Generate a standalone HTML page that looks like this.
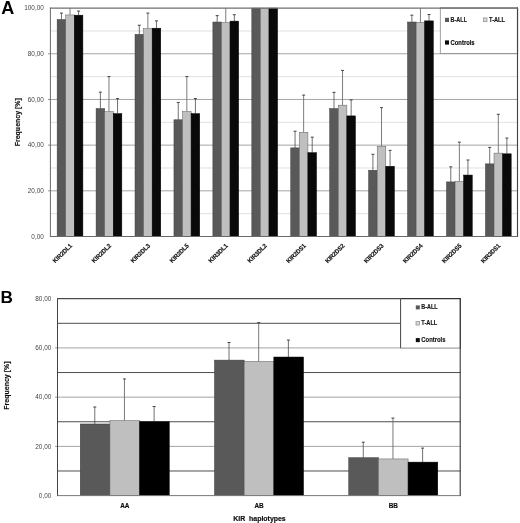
<!DOCTYPE html>
<html><head><meta charset="utf-8"><title>KIR frequencies</title>
<style>
html,body{margin:0;padding:0;background:#fff;}
body{width:520px;height:523px;overflow:hidden;font-family:"Liberation Sans",sans-serif;}
svg{display:block;filter:blur(0.45px)}
</style></head><body>
<svg width="520" height="523" viewBox="0 0 520 523">
<rect x="0" y="0" width="520" height="523" fill="#fff"/>
<line x1="50.4" x2="517.5" y1="213.66" y2="213.66" stroke="#dcdcdc" stroke-width="0.9"/>
<line x1="50.4" x2="517.5" y1="190.82" y2="190.82" stroke="#9a9a9a" stroke-width="0.9"/>
<line x1="50.4" x2="517.5" y1="167.98" y2="167.98" stroke="#dcdcdc" stroke-width="0.9"/>
<line x1="50.4" x2="517.5" y1="145.14" y2="145.14" stroke="#9a9a9a" stroke-width="0.9"/>
<line x1="50.4" x2="517.5" y1="122.30" y2="122.30" stroke="#dcdcdc" stroke-width="0.9"/>
<line x1="50.4" x2="517.5" y1="99.46" y2="99.46" stroke="#9a9a9a" stroke-width="0.9"/>
<line x1="50.4" x2="517.5" y1="76.62" y2="76.62" stroke="#dcdcdc" stroke-width="0.9"/>
<line x1="50.4" x2="517.5" y1="53.78" y2="53.78" stroke="#9a9a9a" stroke-width="0.9"/>
<line x1="50.4" x2="517.5" y1="30.94" y2="30.94" stroke="#dcdcdc" stroke-width="0.9"/>
<text x="43.8" y="238.85" text-anchor="end" font-size="6.4" fill="#444" font-family="Liberation Sans, sans-serif">0,00</text>
<line x1="48.0" x2="50.4" y1="190.82" y2="190.82" stroke="#777" stroke-width="0.8"/>
<text x="43.8" y="193.17" text-anchor="end" font-size="6.4" fill="#444" font-family="Liberation Sans, sans-serif">20,00</text>
<line x1="48.0" x2="50.4" y1="145.14" y2="145.14" stroke="#777" stroke-width="0.8"/>
<text x="43.8" y="147.49" text-anchor="end" font-size="6.4" fill="#444" font-family="Liberation Sans, sans-serif">40,00</text>
<line x1="48.0" x2="50.4" y1="99.46" y2="99.46" stroke="#777" stroke-width="0.8"/>
<text x="43.8" y="101.81" text-anchor="end" font-size="6.4" fill="#444" font-family="Liberation Sans, sans-serif">60,00</text>
<line x1="48.0" x2="50.4" y1="53.78" y2="53.78" stroke="#777" stroke-width="0.8"/>
<text x="43.8" y="56.13" text-anchor="end" font-size="6.4" fill="#444" font-family="Liberation Sans, sans-serif">80,00</text>
<text x="43.8" y="10.45" text-anchor="end" font-size="6.4" fill="#444" font-family="Liberation Sans, sans-serif">100,00</text>
<rect x="57.15" y="19.52" width="8.58" height="216.98" fill="#595959" stroke="#3a3a3a" stroke-width="0.5"/>
<rect x="65.73" y="14.95" width="8.58" height="221.55" fill="#bfbfbf" stroke="#5e5e5e" stroke-width="0.5"/>
<rect x="74.31" y="15.18" width="8.58" height="221.32" fill="#090909" stroke="#000" stroke-width="0.5"/>
<line x1="61.44" x2="61.44" y1="19.52" y2="13.12" stroke="#333" stroke-width="0.7"/>
<line x1="59.94" x2="62.94" y1="13.12" y2="13.12" stroke="#333" stroke-width="0.9"/>
<line x1="70.02" x2="70.02" y1="14.95" y2="8.10" stroke="#7c7c7c" stroke-width="1.0"/>
<line x1="78.60" x2="78.60" y1="15.18" y2="11.07" stroke="#333" stroke-width="0.7"/>
<line x1="77.10" x2="80.10" y1="11.07" y2="11.07" stroke="#333" stroke-width="0.9"/>
<text transform="translate(72.62,246.1) rotate(-45) scale(0.93,1)" text-anchor="end" font-size="6.3" font-weight="bold" fill="#0c0c0c" stroke="#0c0c0c" stroke-width="0.15" stroke="#111" stroke-width="0.2" font-family="Liberation Sans, sans-serif">KIR2DL1</text>
<rect x="96.09" y="108.60" width="8.58" height="127.90" fill="#595959" stroke="#3a3a3a" stroke-width="0.5"/>
<rect x="104.67" y="111.57" width="8.58" height="124.93" fill="#bfbfbf" stroke="#5e5e5e" stroke-width="0.5"/>
<rect x="113.25" y="113.62" width="8.58" height="122.88" fill="#090909" stroke="#000" stroke-width="0.5"/>
<line x1="100.38" x2="100.38" y1="108.60" y2="92.15" stroke="#333" stroke-width="0.7"/>
<line x1="98.88" x2="101.88" y1="92.15" y2="92.15" stroke="#333" stroke-width="0.9"/>
<line x1="108.96" x2="108.96" y1="111.57" y2="76.62" stroke="#7c7c7c" stroke-width="1.0"/>
<line x1="107.46" x2="110.46" y1="76.62" y2="76.62" stroke="#333" stroke-width="0.9"/>
<line x1="117.54" x2="117.54" y1="113.62" y2="98.55" stroke="#333" stroke-width="0.7"/>
<line x1="116.04" x2="119.04" y1="98.55" y2="98.55" stroke="#333" stroke-width="0.9"/>
<text transform="translate(111.56,246.1) rotate(-45) scale(0.93,1)" text-anchor="end" font-size="6.3" font-weight="bold" fill="#0c0c0c" stroke="#0c0c0c" stroke-width="0.15" stroke="#111" stroke-width="0.2" font-family="Liberation Sans, sans-serif">KIR2DL2</text>
<rect x="135.02" y="34.37" width="8.58" height="202.13" fill="#595959" stroke="#3a3a3a" stroke-width="0.5"/>
<rect x="143.60" y="28.66" width="8.58" height="207.84" fill="#bfbfbf" stroke="#5e5e5e" stroke-width="0.5"/>
<rect x="152.18" y="28.20" width="8.58" height="208.30" fill="#090909" stroke="#000" stroke-width="0.5"/>
<line x1="139.31" x2="139.31" y1="34.37" y2="25.23" stroke="#333" stroke-width="0.7"/>
<line x1="137.81" x2="140.81" y1="25.23" y2="25.23" stroke="#333" stroke-width="0.9"/>
<line x1="147.89" x2="147.89" y1="28.66" y2="13.12" stroke="#7c7c7c" stroke-width="1.0"/>
<line x1="146.39" x2="149.39" y1="13.12" y2="13.12" stroke="#333" stroke-width="0.9"/>
<line x1="156.47" x2="156.47" y1="28.20" y2="20.89" stroke="#333" stroke-width="0.7"/>
<line x1="154.97" x2="157.97" y1="20.89" y2="20.89" stroke="#333" stroke-width="0.9"/>
<text transform="translate(150.49,246.1) rotate(-45) scale(0.93,1)" text-anchor="end" font-size="6.3" font-weight="bold" fill="#0c0c0c" stroke="#0c0c0c" stroke-width="0.15" stroke="#111" stroke-width="0.2" font-family="Liberation Sans, sans-serif">KIR2DL3</text>
<rect x="173.96" y="119.79" width="8.58" height="116.71" fill="#595959" stroke="#3a3a3a" stroke-width="0.5"/>
<rect x="182.54" y="111.57" width="8.58" height="124.93" fill="#bfbfbf" stroke="#5e5e5e" stroke-width="0.5"/>
<rect x="191.12" y="113.62" width="8.58" height="122.88" fill="#090909" stroke="#000" stroke-width="0.5"/>
<line x1="178.25" x2="178.25" y1="119.79" y2="102.43" stroke="#333" stroke-width="0.7"/>
<line x1="176.75" x2="179.75" y1="102.43" y2="102.43" stroke="#333" stroke-width="0.9"/>
<line x1="186.83" x2="186.83" y1="111.57" y2="76.62" stroke="#7c7c7c" stroke-width="1.0"/>
<line x1="185.33" x2="188.33" y1="76.62" y2="76.62" stroke="#333" stroke-width="0.9"/>
<line x1="195.41" x2="195.41" y1="113.62" y2="98.55" stroke="#333" stroke-width="0.7"/>
<line x1="193.91" x2="196.91" y1="98.55" y2="98.55" stroke="#333" stroke-width="0.9"/>
<text transform="translate(189.43,246.1) rotate(-45) scale(0.93,1)" text-anchor="end" font-size="6.3" font-weight="bold" fill="#0c0c0c" stroke="#0c0c0c" stroke-width="0.15" stroke="#111" stroke-width="0.2" font-family="Liberation Sans, sans-serif">KIR2DL5</text>
<rect x="212.89" y="22.03" width="8.58" height="214.47" fill="#595959" stroke="#3a3a3a" stroke-width="0.5"/>
<rect x="221.47" y="22.49" width="8.58" height="214.01" fill="#bfbfbf" stroke="#5e5e5e" stroke-width="0.5"/>
<rect x="230.05" y="21.12" width="8.58" height="215.38" fill="#090909" stroke="#000" stroke-width="0.5"/>
<line x1="217.18" x2="217.18" y1="22.03" y2="15.64" stroke="#333" stroke-width="0.7"/>
<line x1="215.68" x2="218.68" y1="15.64" y2="15.64" stroke="#333" stroke-width="0.9"/>
<line x1="225.76" x2="225.76" y1="22.49" y2="8.10" stroke="#7c7c7c" stroke-width="1.0"/>
<line x1="234.34" x2="234.34" y1="21.12" y2="14.72" stroke="#333" stroke-width="0.7"/>
<line x1="232.84" x2="235.84" y1="14.72" y2="14.72" stroke="#333" stroke-width="0.9"/>
<text transform="translate(228.36,246.1) rotate(-45) scale(0.93,1)" text-anchor="end" font-size="6.3" font-weight="bold" fill="#0c0c0c" stroke="#0c0c0c" stroke-width="0.15" stroke="#111" stroke-width="0.2" font-family="Liberation Sans, sans-serif">KIR3DL1</text>
<rect x="251.83" y="8.10" width="8.58" height="228.40" fill="#595959" stroke="#3a3a3a" stroke-width="0.5"/>
<rect x="260.41" y="8.10" width="8.58" height="228.40" fill="#bfbfbf" stroke="#5e5e5e" stroke-width="0.5"/>
<rect x="268.99" y="8.10" width="8.58" height="228.40" fill="#090909" stroke="#000" stroke-width="0.5"/>
<text transform="translate(267.30,246.1) rotate(-45) scale(0.93,1)" text-anchor="end" font-size="6.3" font-weight="bold" fill="#0c0c0c" stroke="#0c0c0c" stroke-width="0.15" stroke="#111" stroke-width="0.2" font-family="Liberation Sans, sans-serif">KIR3DL2</text>
<rect x="290.76" y="147.88" width="8.58" height="88.62" fill="#595959" stroke="#3a3a3a" stroke-width="0.5"/>
<rect x="299.34" y="132.35" width="8.58" height="104.15" fill="#bfbfbf" stroke="#5e5e5e" stroke-width="0.5"/>
<rect x="307.92" y="152.68" width="8.58" height="83.82" fill="#090909" stroke="#000" stroke-width="0.5"/>
<line x1="295.05" x2="295.05" y1="147.88" y2="131.21" stroke="#333" stroke-width="0.7"/>
<line x1="293.55" x2="296.55" y1="131.21" y2="131.21" stroke="#333" stroke-width="0.9"/>
<line x1="303.63" x2="303.63" y1="132.35" y2="95.12" stroke="#7c7c7c" stroke-width="1.0"/>
<line x1="302.13" x2="305.13" y1="95.12" y2="95.12" stroke="#333" stroke-width="0.9"/>
<line x1="312.21" x2="312.21" y1="152.68" y2="137.15" stroke="#333" stroke-width="0.7"/>
<line x1="310.71" x2="313.71" y1="137.15" y2="137.15" stroke="#333" stroke-width="0.9"/>
<text transform="translate(306.23,246.1) rotate(-45) scale(0.93,1)" text-anchor="end" font-size="6.3" font-weight="bold" fill="#0c0c0c" stroke="#0c0c0c" stroke-width="0.15" stroke="#111" stroke-width="0.2" font-family="Liberation Sans, sans-serif">KIR2DS1</text>
<rect x="329.69" y="108.60" width="8.58" height="127.90" fill="#595959" stroke="#3a3a3a" stroke-width="0.5"/>
<rect x="338.27" y="105.17" width="8.58" height="131.33" fill="#bfbfbf" stroke="#5e5e5e" stroke-width="0.5"/>
<rect x="346.86" y="115.90" width="8.58" height="120.60" fill="#090909" stroke="#000" stroke-width="0.5"/>
<line x1="333.99" x2="333.99" y1="108.60" y2="92.38" stroke="#333" stroke-width="0.7"/>
<line x1="332.49" x2="335.49" y1="92.38" y2="92.38" stroke="#333" stroke-width="0.9"/>
<line x1="342.56" x2="342.56" y1="105.17" y2="70.45" stroke="#7c7c7c" stroke-width="1.0"/>
<line x1="341.06" x2="344.06" y1="70.45" y2="70.45" stroke="#333" stroke-width="0.9"/>
<line x1="351.15" x2="351.15" y1="115.90" y2="99.92" stroke="#333" stroke-width="0.7"/>
<line x1="349.65" x2="352.65" y1="99.92" y2="99.92" stroke="#333" stroke-width="0.9"/>
<text transform="translate(345.17,246.1) rotate(-45) scale(0.93,1)" text-anchor="end" font-size="6.3" font-weight="bold" fill="#0c0c0c" stroke="#0c0c0c" stroke-width="0.15" stroke="#111" stroke-width="0.2" font-family="Liberation Sans, sans-serif">KIR2DS2</text>
<rect x="368.63" y="170.26" width="8.58" height="66.24" fill="#595959" stroke="#3a3a3a" stroke-width="0.5"/>
<rect x="377.21" y="146.28" width="8.58" height="90.22" fill="#bfbfbf" stroke="#5e5e5e" stroke-width="0.5"/>
<rect x="385.79" y="166.27" width="8.58" height="70.23" fill="#090909" stroke="#000" stroke-width="0.5"/>
<line x1="372.92" x2="372.92" y1="170.26" y2="154.28" stroke="#333" stroke-width="0.7"/>
<line x1="371.42" x2="374.42" y1="154.28" y2="154.28" stroke="#333" stroke-width="0.9"/>
<line x1="381.50" x2="381.50" y1="146.28" y2="107.68" stroke="#7c7c7c" stroke-width="1.0"/>
<line x1="380.00" x2="383.00" y1="107.68" y2="107.68" stroke="#333" stroke-width="0.9"/>
<line x1="390.08" x2="390.08" y1="166.27" y2="150.39" stroke="#333" stroke-width="0.7"/>
<line x1="388.58" x2="391.58" y1="150.39" y2="150.39" stroke="#333" stroke-width="0.9"/>
<text transform="translate(384.10,246.1) rotate(-45) scale(0.93,1)" text-anchor="end" font-size="6.3" font-weight="bold" fill="#0c0c0c" stroke="#0c0c0c" stroke-width="0.15" stroke="#111" stroke-width="0.2" font-family="Liberation Sans, sans-serif">KIR2DS3</text>
<rect x="407.56" y="22.03" width="8.58" height="214.47" fill="#595959" stroke="#3a3a3a" stroke-width="0.5"/>
<rect x="416.14" y="22.26" width="8.58" height="214.24" fill="#bfbfbf" stroke="#5e5e5e" stroke-width="0.5"/>
<rect x="424.73" y="20.89" width="8.58" height="215.61" fill="#090909" stroke="#000" stroke-width="0.5"/>
<line x1="411.86" x2="411.86" y1="22.03" y2="15.18" stroke="#333" stroke-width="0.7"/>
<line x1="410.36" x2="413.36" y1="15.18" y2="15.18" stroke="#333" stroke-width="0.9"/>
<line x1="420.44" x2="420.44" y1="22.26" y2="8.10" stroke="#7c7c7c" stroke-width="1.0"/>
<line x1="429.02" x2="429.02" y1="20.89" y2="14.50" stroke="#333" stroke-width="0.7"/>
<line x1="427.52" x2="430.52" y1="14.50" y2="14.50" stroke="#333" stroke-width="0.9"/>
<text transform="translate(423.04,246.1) rotate(-45) scale(0.93,1)" text-anchor="end" font-size="6.3" font-weight="bold" fill="#0c0c0c" stroke="#0c0c0c" stroke-width="0.15" stroke="#111" stroke-width="0.2" font-family="Liberation Sans, sans-serif">KIR2DS4</text>
<rect x="446.50" y="181.91" width="8.58" height="54.59" fill="#595959" stroke="#3a3a3a" stroke-width="0.5"/>
<rect x="455.08" y="181.23" width="8.58" height="55.27" fill="#bfbfbf" stroke="#5e5e5e" stroke-width="0.5"/>
<rect x="463.66" y="175.06" width="8.58" height="61.44" fill="#090909" stroke="#000" stroke-width="0.5"/>
<line x1="450.79" x2="450.79" y1="181.91" y2="166.84" stroke="#333" stroke-width="0.7"/>
<line x1="449.29" x2="452.29" y1="166.84" y2="166.84" stroke="#333" stroke-width="0.9"/>
<line x1="459.37" x2="459.37" y1="181.23" y2="142.17" stroke="#7c7c7c" stroke-width="1.0"/>
<line x1="457.87" x2="460.87" y1="142.17" y2="142.17" stroke="#333" stroke-width="0.9"/>
<line x1="467.95" x2="467.95" y1="175.06" y2="159.99" stroke="#333" stroke-width="0.7"/>
<line x1="466.45" x2="469.45" y1="159.99" y2="159.99" stroke="#333" stroke-width="0.9"/>
<text transform="translate(461.97,246.1) rotate(-45) scale(0.93,1)" text-anchor="end" font-size="6.3" font-weight="bold" fill="#0c0c0c" stroke="#0c0c0c" stroke-width="0.15" stroke="#111" stroke-width="0.2" font-family="Liberation Sans, sans-serif">KIR2DS5</text>
<rect x="485.44" y="163.87" width="8.58" height="72.63" fill="#595959" stroke="#3a3a3a" stroke-width="0.5"/>
<rect x="494.01" y="153.13" width="8.58" height="83.37" fill="#bfbfbf" stroke="#5e5e5e" stroke-width="0.5"/>
<rect x="502.60" y="153.82" width="8.58" height="82.68" fill="#090909" stroke="#000" stroke-width="0.5"/>
<line x1="489.73" x2="489.73" y1="163.87" y2="147.42" stroke="#333" stroke-width="0.7"/>
<line x1="488.23" x2="491.23" y1="147.42" y2="147.42" stroke="#333" stroke-width="0.9"/>
<line x1="498.31" x2="498.31" y1="153.13" y2="114.31" stroke="#7c7c7c" stroke-width="1.0"/>
<line x1="496.81" x2="499.81" y1="114.31" y2="114.31" stroke="#333" stroke-width="0.9"/>
<line x1="506.89" x2="506.89" y1="153.82" y2="138.06" stroke="#333" stroke-width="0.7"/>
<line x1="505.39" x2="508.39" y1="138.06" y2="138.06" stroke="#333" stroke-width="0.9"/>
<text transform="translate(500.91,246.1) rotate(-45) scale(0.93,1)" text-anchor="end" font-size="6.3" font-weight="bold" fill="#0c0c0c" stroke="#0c0c0c" stroke-width="0.15" stroke="#111" stroke-width="0.2" font-family="Liberation Sans, sans-serif">KIR3DS1</text>
<line x1="49.9" x2="518.0" y1="8.1" y2="8.1" stroke="#6e6e6e" stroke-width="1.3"/>
<line x1="50.4" x2="50.4" y1="7.6" y2="237.0" stroke="#6a6a6a" stroke-width="1"/>
<line x1="517.5" x2="517.5" y1="7.6" y2="237.0" stroke="#444" stroke-width="1.15"/>
<line x1="50.4" x2="517.5" y1="236.5" y2="236.5" stroke="#6a6a6a" stroke-width="1"/>
<rect x="440.3" y="8.1" width="77.20" height="45.30" fill="#fff" stroke="#8a8a8a" stroke-width="0.8"/>
<line x1="517.5" x2="517.5" y1="7.6" y2="54" stroke="#444" stroke-width="1.15"/>
<line x1="440" x2="518.0" y1="8.1" y2="8.1" stroke="#6e6e6e" stroke-width="1.3"/>
<rect x="445" y="17.8" width="4" height="4.2" fill="#595959"/>
<text x="450.6" y="22" font-size="6.4" font-weight="bold" fill="#151515" stroke="#151515" stroke-width="0.15" textLength="16.4" lengthAdjust="spacingAndGlyphs" font-family="Liberation Sans, sans-serif">B-ALL</text>
<rect x="483.4" y="17.9" width="3.6" height="3.8" fill="#d6d6d6" stroke="#8e8e8e" stroke-width="0.7"/>
<text x="489.0" y="22" font-size="6.4" font-weight="bold" fill="#151515" stroke="#151515" stroke-width="0.15" textLength="16.0" lengthAdjust="spacingAndGlyphs" font-family="Liberation Sans, sans-serif">T-ALL</text>
<rect x="445" y="40.4" width="4" height="4.2" fill="#090909"/>
<text x="450.6" y="44.8" font-size="6.4" font-weight="bold" fill="#0c0c0c" stroke="#0c0c0c" stroke-width="0.15" textLength="24" lengthAdjust="spacingAndGlyphs" font-family="Liberation Sans, sans-serif">Controls</text>
<text x="1.3" y="13.5" textLength="13.0" lengthAdjust="spacingAndGlyphs" font-size="17.5" font-weight="bold" fill="#000" font-family="Liberation Sans, sans-serif">A</text>
<text transform="translate(19.7,122.2) rotate(-90)" text-anchor="middle" font-size="7.0" font-weight="bold" fill="#0c0c0c" stroke="#0c0c0c" stroke-width="0.15" font-family="Liberation Sans, sans-serif">Frequency [%]</text>
<line x1="57.5" x2="460.2" y1="470.99" y2="470.99" stroke="#3a3a3a" stroke-width="0.9"/>
<line x1="57.5" x2="460.2" y1="446.38" y2="446.38" stroke="#9a9a9a" stroke-width="0.9"/>
<line x1="57.5" x2="460.2" y1="421.76" y2="421.76" stroke="#3a3a3a" stroke-width="0.9"/>
<line x1="57.5" x2="460.2" y1="397.15" y2="397.15" stroke="#9a9a9a" stroke-width="0.9"/>
<line x1="57.5" x2="460.2" y1="372.54" y2="372.54" stroke="#3a3a3a" stroke-width="0.9"/>
<line x1="57.5" x2="460.2" y1="347.92" y2="347.92" stroke="#9a9a9a" stroke-width="0.9"/>
<line x1="57.5" x2="460.2" y1="323.31" y2="323.31" stroke="#3a3a3a" stroke-width="0.9"/>
<text x="51.3" y="497.90" text-anchor="end" font-size="6.4" fill="#444" font-family="Liberation Sans, sans-serif">0,00</text>
<line x1="55.1" x2="57.5" y1="446.38" y2="446.38" stroke="#777" stroke-width="0.8"/>
<text x="51.3" y="448.68" text-anchor="end" font-size="6.4" fill="#444" font-family="Liberation Sans, sans-serif">20,00</text>
<line x1="55.1" x2="57.5" y1="397.15" y2="397.15" stroke="#777" stroke-width="0.8"/>
<text x="51.3" y="399.45" text-anchor="end" font-size="6.4" fill="#444" font-family="Liberation Sans, sans-serif">40,00</text>
<line x1="55.1" x2="57.5" y1="347.92" y2="347.92" stroke="#777" stroke-width="0.8"/>
<text x="51.3" y="350.22" text-anchor="end" font-size="6.4" fill="#444" font-family="Liberation Sans, sans-serif">60,00</text>
<text x="51.3" y="301.00" text-anchor="end" font-size="6.4" fill="#444" font-family="Liberation Sans, sans-serif">80,00</text>
<rect x="80.25" y="423.98" width="29.67" height="71.62" fill="#595959" stroke="#3a3a3a" stroke-width="0.5"/>
<rect x="109.92" y="420.53" width="29.67" height="75.07" fill="#bfbfbf" stroke="#5e5e5e" stroke-width="0.5"/>
<rect x="139.59" y="421.76" width="29.67" height="73.84" fill="#000" stroke="#000" stroke-width="0.5"/>
<line x1="94.79" x2="94.79" y1="423.98" y2="407.00" stroke="#333" stroke-width="0.7"/>
<line x1="93.29" x2="96.29" y1="407.00" y2="407.00" stroke="#333" stroke-width="0.9"/>
<line x1="124.45" x2="124.45" y1="420.53" y2="378.94" stroke="#6a6a6a" stroke-width="0.9"/>
<line x1="122.95" x2="125.95" y1="378.94" y2="378.94" stroke="#333" stroke-width="0.9"/>
<line x1="154.12" x2="154.12" y1="421.76" y2="406.50" stroke="#333" stroke-width="0.7"/>
<line x1="152.62" x2="155.62" y1="406.50" y2="406.50" stroke="#333" stroke-width="0.9"/>
<text x="124.75" y="507.8" text-anchor="middle" font-size="6.4" font-weight="bold" fill="#0c0c0c" stroke="#0c0c0c" stroke-width="0.15" stroke="#111" stroke-width="0.2" font-family="Liberation Sans, sans-serif">AA</text>
<rect x="214.50" y="360.11" width="29.67" height="135.49" fill="#595959" stroke="#3a3a3a" stroke-width="0.5"/>
<rect x="244.17" y="361.34" width="29.67" height="134.26" fill="#bfbfbf" stroke="#5e5e5e" stroke-width="0.5"/>
<rect x="273.84" y="357.03" width="29.67" height="138.57" fill="#000" stroke="#000" stroke-width="0.5"/>
<line x1="229.03" x2="229.03" y1="360.11" y2="342.51" stroke="#333" stroke-width="0.7"/>
<line x1="227.53" x2="230.53" y1="342.51" y2="342.51" stroke="#333" stroke-width="0.9"/>
<line x1="258.70" x2="258.70" y1="361.34" y2="322.57" stroke="#6a6a6a" stroke-width="0.9"/>
<line x1="257.20" x2="260.20" y1="322.57" y2="322.57" stroke="#333" stroke-width="0.9"/>
<line x1="288.38" x2="288.38" y1="357.03" y2="340.05" stroke="#333" stroke-width="0.7"/>
<line x1="286.88" x2="289.88" y1="340.05" y2="340.05" stroke="#333" stroke-width="0.9"/>
<text x="259.00" y="507.8" text-anchor="middle" font-size="6.4" font-weight="bold" fill="#0c0c0c" stroke="#0c0c0c" stroke-width="0.15" stroke="#111" stroke-width="0.2" font-family="Liberation Sans, sans-serif">AB</text>
<rect x="348.75" y="457.70" width="29.67" height="37.90" fill="#595959" stroke="#3a3a3a" stroke-width="0.5"/>
<rect x="378.42" y="458.93" width="29.67" height="36.67" fill="#bfbfbf" stroke="#5e5e5e" stroke-width="0.5"/>
<rect x="408.09" y="462.13" width="29.67" height="33.47" fill="#000" stroke="#000" stroke-width="0.5"/>
<line x1="363.28" x2="363.28" y1="457.70" y2="442.19" stroke="#333" stroke-width="0.7"/>
<line x1="361.78" x2="364.78" y1="442.19" y2="442.19" stroke="#333" stroke-width="0.9"/>
<line x1="392.95" x2="392.95" y1="458.93" y2="418.07" stroke="#6a6a6a" stroke-width="0.9"/>
<line x1="391.45" x2="394.45" y1="418.07" y2="418.07" stroke="#333" stroke-width="0.9"/>
<line x1="422.62" x2="422.62" y1="462.13" y2="448.10" stroke="#333" stroke-width="0.7"/>
<line x1="421.12" x2="424.12" y1="448.10" y2="448.10" stroke="#333" stroke-width="0.9"/>
<text x="393.25" y="507.8" text-anchor="middle" font-size="6.4" font-weight="bold" fill="#0c0c0c" stroke="#0c0c0c" stroke-width="0.15" stroke="#111" stroke-width="0.2" font-family="Liberation Sans, sans-serif">BB</text>
<line x1="57.5" x2="460.2" y1="298.7" y2="298.7" stroke="#222" stroke-width="1"/>
<line x1="57.5" x2="57.5" y1="298.2" y2="496.1" stroke="#444" stroke-width="1"/>
<line x1="460.2" x2="460.2" y1="298.2" y2="496.1" stroke="#222" stroke-width="1"/>
<line x1="57.5" x2="460.2" y1="495.6" y2="495.6" stroke="#7a7a7a" stroke-width="1"/>
<rect x="400.6" y="298.7" width="59.60" height="49.30" fill="#fff" stroke="#8a8a8a" stroke-width="0.8"/>
<line x1="400.6" x2="460.2" y1="298.7" y2="298.7" stroke="#222" stroke-width="1"/>
<line x1="460.2" x2="460.2" y1="298.2" y2="348.5" stroke="#222" stroke-width="1"/>
<line x1="400.6" x2="400.6" y1="298.7" y2="348" stroke="#444" stroke-width="0.9"/>
<rect x="415.8" y="305.40" width="4" height="4" fill="#595959"/>
<text x="421.3" y="309.30" font-size="6.4" font-weight="bold" fill="#151515" stroke="#151515" stroke-width="0.15" textLength="16.3" lengthAdjust="spacingAndGlyphs" font-family="Liberation Sans, sans-serif">B-ALL</text>
<rect x="416.0" y="321.50" width="3.6" height="3.6" fill="#d6d6d6" stroke="#8e8e8e" stroke-width="0.7"/>
<text x="421.3" y="325.30" font-size="6.4" font-weight="bold" fill="#151515" stroke="#151515" stroke-width="0.15" textLength="16.0" lengthAdjust="spacingAndGlyphs" font-family="Liberation Sans, sans-serif">T-ALL</text>
<rect x="415.8" y="338.10" width="4" height="4" fill="#090909"/>
<text x="421.3" y="342.00" font-size="6.4" font-weight="bold" fill="#151515" stroke="#151515" stroke-width="0.15" textLength="24.2" lengthAdjust="spacingAndGlyphs" font-family="Liberation Sans, sans-serif">Controls</text>
<text x="0.4" y="303.2" font-size="17.2" font-weight="bold" fill="#000" font-family="Liberation Sans, sans-serif">B</text>
<text transform="translate(9.1,385.6) rotate(-90)" text-anchor="middle" font-size="7.0" font-weight="bold" fill="#0c0c0c" stroke="#0c0c0c" stroke-width="0.15" font-family="Liberation Sans, sans-serif">Frequency [%]</text>
<text x="259.5" y="520.8" text-anchor="middle" font-size="6.95" font-weight="bold" fill="#0c0c0c" stroke="#0c0c0c" stroke-width="0.15" font-family="Liberation Sans, sans-serif" style="white-space:pre">KIR  haplotypes</text>
</svg>
</body></html>
